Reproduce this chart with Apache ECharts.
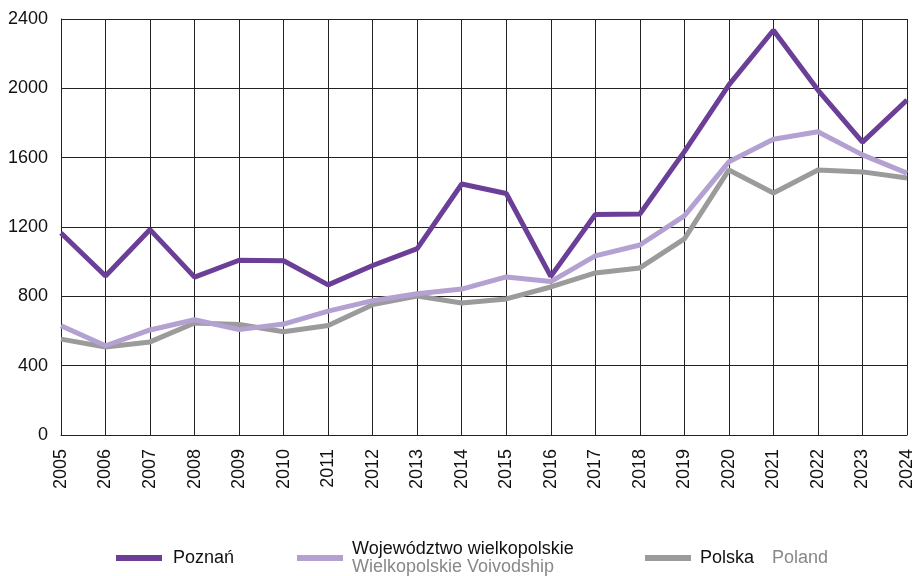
<!DOCTYPE html>
<html>
<head>
<meta charset="utf-8">
<script src="https://cdn.jsdelivr.net/npm/echarts@6/dist/echarts.min.js"></script>
<style>
  html, body { margin: 0; padding: 0; background: #fff; }
  #chart { width: 918px; height: 576px; }
</style>
</head>
<body>
<div id="chart"></div>
<script>
const years = ['2005','2006','2007','2008','2009','2010','2011','2012','2013','2014',
  '2015','2016','2017','2018','2019','2020','2021','2022','2023','2024'];
const poznan = [1165, 917, 1185, 911, 1008, 1005, 866, 978, 1075, 1448,
  1393, 915, 1272, 1275, 1635, 2020, 2335, 1990, 1690, 1933];
const wojewodztwo = [630, 515, 606, 665, 608, 640, 715, 775, 815, 842,
  912, 885, 1033, 1096, 1264, 1576, 1706, 1750, 1616, 1511];
const polska = [553, 508, 537, 646, 638, 596, 632, 752, 802, 762,
  785, 854, 935, 964, 1131, 1529, 1396, 1529, 1518, 1483];

const font = 'Liberation Sans, Arial, sans-serif';
const chart = echarts.init(document.getElementById('chart'));

function line(name, data, color) {
  return {
    name: name, type: 'line', data: data,
    symbol: 'none', lineStyle: { color: color, width: 5 },
    itemStyle: { color: color }
  };
}

chart.setOption({
  animation: false,
  grid: { left: 61, right: 11, top: 19, bottom: 141 },
  xAxis: {
    type: 'category', data: years, boundaryGap: false,
    axisLine: { lineStyle: { color: '#222', width: 1 } },
    axisTick: { show: false },
    axisLabel: { rotate: 90, margin: 14, fontFamily: font, fontSize: 18, color: '#111' },
    splitLine: { show: true, lineStyle: { color: '#222', width: 1 } }
  },
  yAxis: {
    type: 'value', min: 0, max: 2400, interval: 400,
    axisLine: { show: true, lineStyle: { color: '#222', width: 1 } },
    axisTick: { show: false },
    axisLabel: {
      margin: 13, fontFamily: font, fontSize: 18, color: '#111',
      formatter: function (v) { return String(v); }
    },
    splitLine: { lineStyle: { color: '#222', width: 1 } }
  },
  legend: [
    {
      data: ['Poznań'], left: 116, top: 549, icon: 'rect',
      itemWidth: 46, itemHeight: 6, padding: 0,
      textStyle: { fontFamily: font, fontSize: 18, color: '#111', padding: [0, 0, 0, 6] }
    },
    {
      data: ['Województwo wielkopolskie'], left: 297, top: 540, icon: 'rect',
      itemWidth: 46, itemHeight: 6, padding: 0,
      formatter: function () { return '{a|Województwo wielkopolskie}\n{b|Wielkopolskie Voivodship}'; },
      textStyle: {
        fontFamily: font, padding: [0, 0, 0, 4],
        rich: {
          a: { fontFamily: font, fontSize: 18, color: '#111', lineHeight: 18 },
          b: { fontFamily: font, fontSize: 18, color: '#888', lineHeight: 18 }
        }
      }
    },
    {
      data: ['Polska'], left: 645, top: 549, icon: 'rect',
      itemWidth: 46, itemHeight: 6, padding: 0,
      formatter: function () { return '{a|Polska}{b|Poland}'; },
      textStyle: {
        fontFamily: font, padding: [0, 0, 0, 4],
        rich: {
          a: { fontFamily: font, fontSize: 18, color: '#111' },
          b: { fontFamily: font, fontSize: 18, color: '#888', padding: [0, 0, 0, 18] }
        }
      }
    }
  ],
  series: [
    line('Polska', polska, '#9b9b9b'),
    line('Województwo wielkopolskie', wojewodztwo, '#b3a1d1'),
    line('Poznań', poznan, '#6b3f98')
  ]
});
</script>
</body>
</html>
